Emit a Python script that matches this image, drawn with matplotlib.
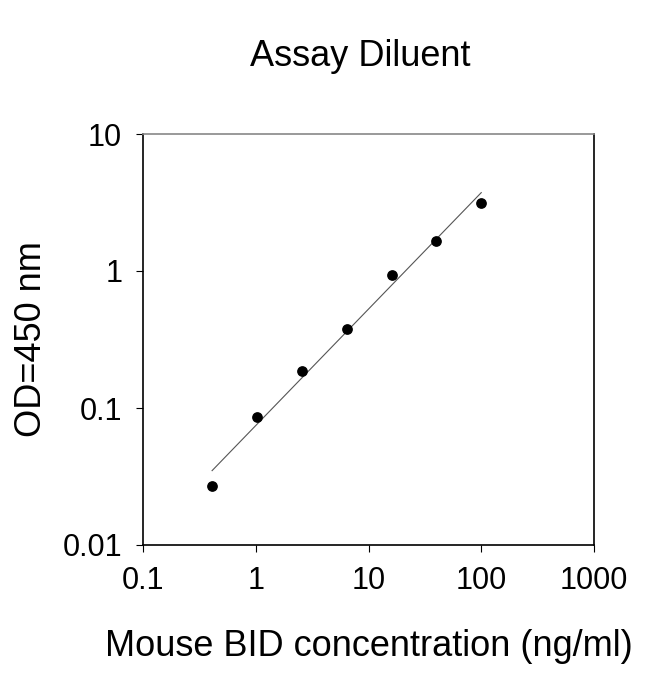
import numpy as np
import matplotlib
matplotlib.use("Agg")
import matplotlib.pyplot as plt

# Standard curve
conc = [0.41, 1.02, 2.56, 6.4, 16, 40, 100]
od = [0.027, 0.086, 0.185, 0.38, 0.93, 1.66, 3.15]

plt.rcParams["font.family"] = "Liberation Sans"

fig = plt.figure(figsize=(6.5, 6.74), dpi=100)
ax = fig.add_axes([143 / 650, 1 - 545 / 674, 451 / 650, 411 / 674])

ax.scatter(conc, od, s=45, color="black", zorder=3, marker="o")

# log-log linear fit line
k, b = np.polyfit(np.log10(conc), np.log10(od), 1)
xf = np.array([conc[0], conc[-1]])
ax.plot(xf, 10 ** (k * np.log10(xf) + b), color="#555555", lw=0.8)

ax.set_xscale("log")
ax.set_yscale("log")
ax.set_xlim(0.1, 1000)
ax.set_ylim(0.01, 10)
ax.set_xticks([0.1, 1, 10, 100, 1000])
ax.set_xticklabels(["0.1", "1", "10", "100", "1000"])
ax.set_yticks([0.01, 0.1, 1, 10])
ax.set_yticklabels(["0.01", "0.1", "1", "10"])
ax.minorticks_off()
ax.tick_params(direction="out", length=5, labelsize=22, pad=10)
ax.spines["top"].set_color("#888888")
for s in ax.spines.values():
    s.set_linewidth(1.2)

ax.set_xlabel("Mouse BID concentration (ng/ml)", fontsize=26, labelpad=24)
ax.set_ylabel("OD=450 nm", fontsize=26, labelpad=10)
fig.text(360 / 650, 1 - 57 / 674, "Assay Diluent", fontsize=26, ha="center", va="center")

fig.savefig("out.png", dpi=100, facecolor="white")
